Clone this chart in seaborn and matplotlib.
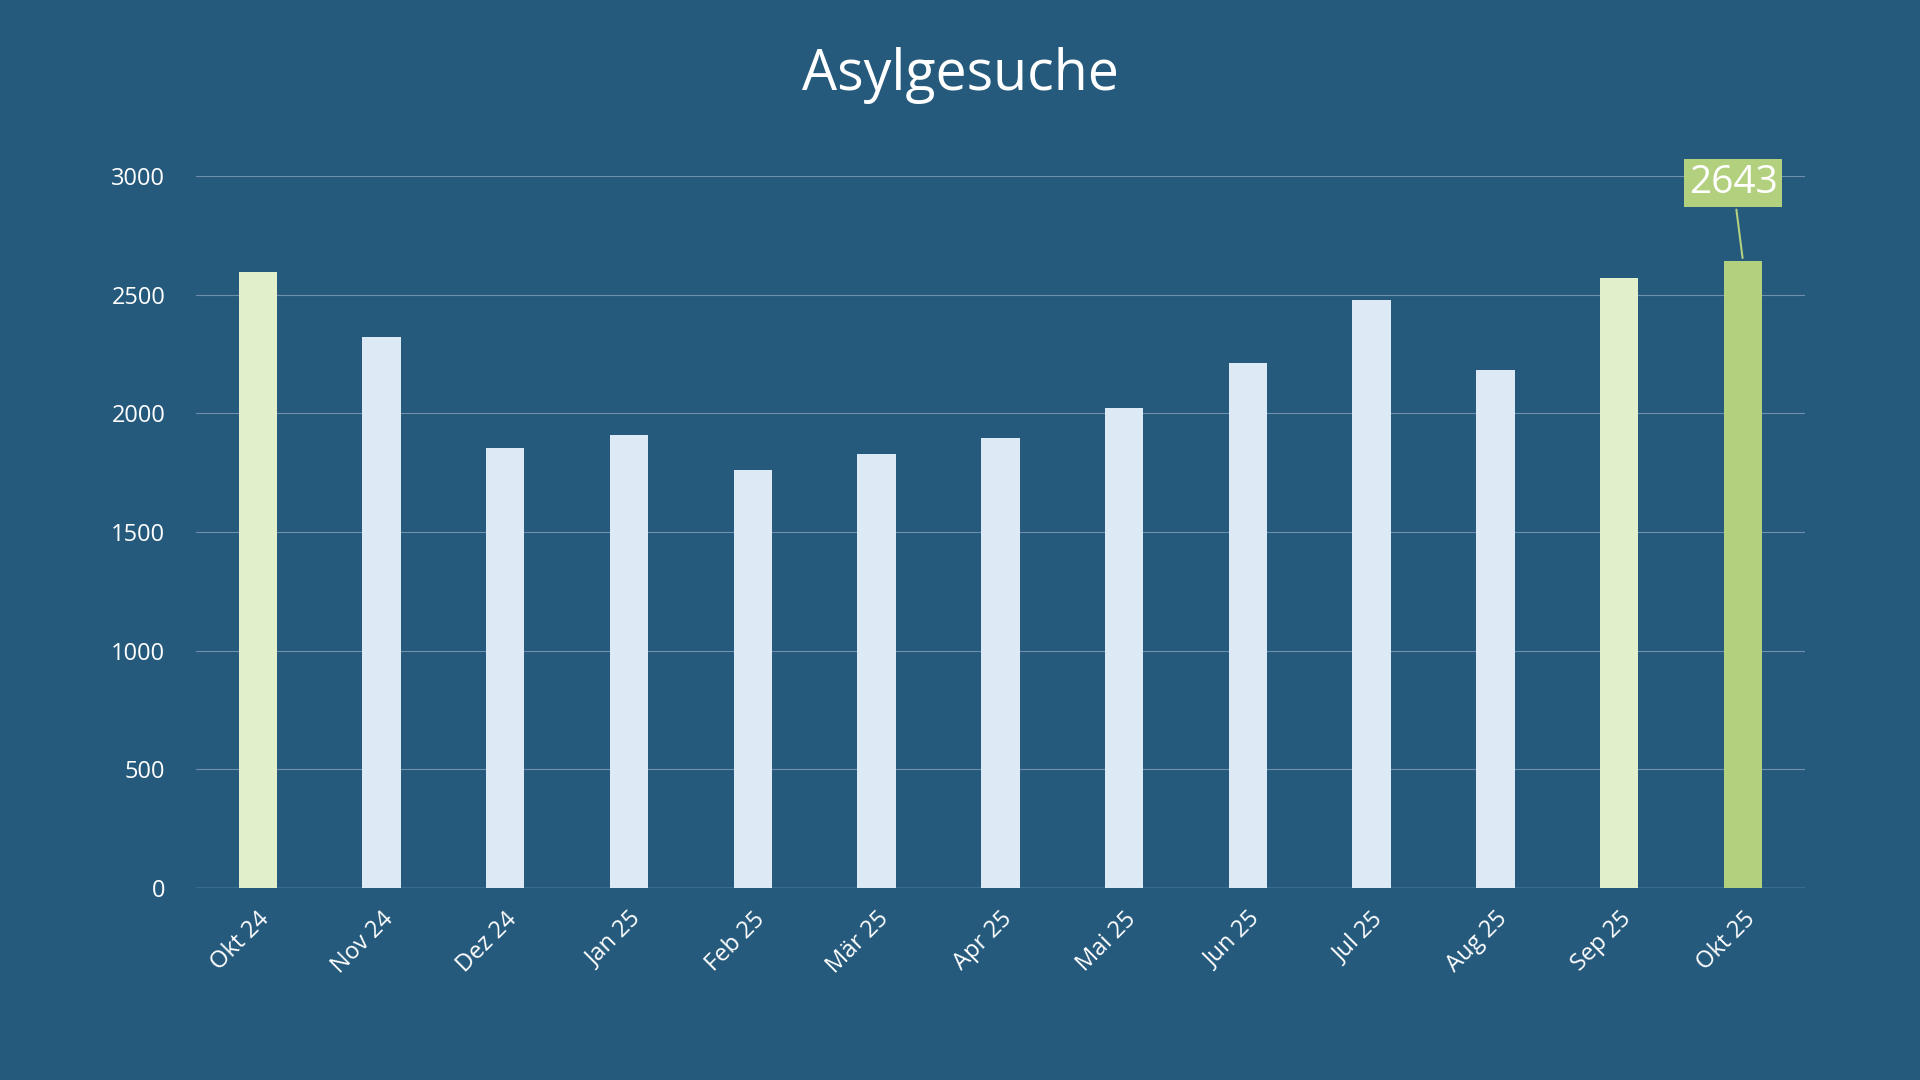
import matplotlib
matplotlib.use('Agg')
import matplotlib.pyplot as plt
import seaborn as sns
import pandas as pd

# Asylgesuche per month
months = ['Okt 24', 'Nov 24', 'Dez 24', 'Jan 25', 'Feb 25', 'Mär 25', 'Apr 25',
          'Mai 25', 'Jun 25', 'Jul 25', 'Aug 25', 'Sep 25', 'Okt 25']
values = [2597, 2323, 1853, 1910, 1760, 1827, 1894, 2024, 2210, 2478, 2184, 2571, 2643]
bar_colors = ['#E2EFCB'] + ['#DDEAF6'] * 10 + ['#E2EFCB', '#B3D07E']

BG = '#255A7D'

sns.set_style('white')
plt.rcParams['font.family'] = ['Open Sans', 'DejaVu Sans']

df = pd.DataFrame({'month': months, 'value': values})

fig = plt.figure(figsize=(19.2, 10.8), dpi=100, facecolor=BG)
ax = fig.add_axes([0.102, 0.178, 0.838, 0.659])
ax.set_facecolor(BG)

sns.barplot(data=df, x='month', y='value', hue='month', palette=bar_colors,
            width=0.31, legend=False, ax=ax, saturation=1, zorder=3,
            edgecolor='none', linewidth=0)

ax.set_ylim(0, 3000)
ax.set_yticks(range(0, 3001, 500))
ax.set_xlim(-0.5, len(months) - 0.5)
ax.grid(axis='y', color='#6F90AA', linewidth=0.8, zorder=0)
for s in ax.spines.values():
    s.set_visible(False)
ax.axhline(0, color='#8FA9BE', linewidth=1, zorder=2)
ax.tick_params(axis='both', colors='white', labelsize=17, length=0)
ax.tick_params(axis='y', pad=22)
ax.tick_params(axis='x', pad=14)
ax.set_xticks(range(len(months)))
ax.set_xticklabels(months, rotation=45, ha='right', rotation_mode='anchor')
ax.set_xlabel('')
ax.set_ylabel('')

# data label for the last bar
last = len(months) - 1
ax.annotate(str(values[-1]), xy=(last, values[-1]), xytext=(last - 0.08, 2970),
            ha='center', va='center', fontsize=28, color='white',
            bbox=dict(boxstyle='square,pad=0.12', fc='#B3D07E', ec='none'),
            arrowprops=dict(arrowstyle='-', color='#B3D07E', lw=1.5),
            annotation_clip=False, zorder=5)

fig.text(0.5, 0.93, 'Asylgesuche', ha='center', va='center', fontsize=40, color='white')

fig.savefig('out.png', dpi=100, facecolor=BG)
